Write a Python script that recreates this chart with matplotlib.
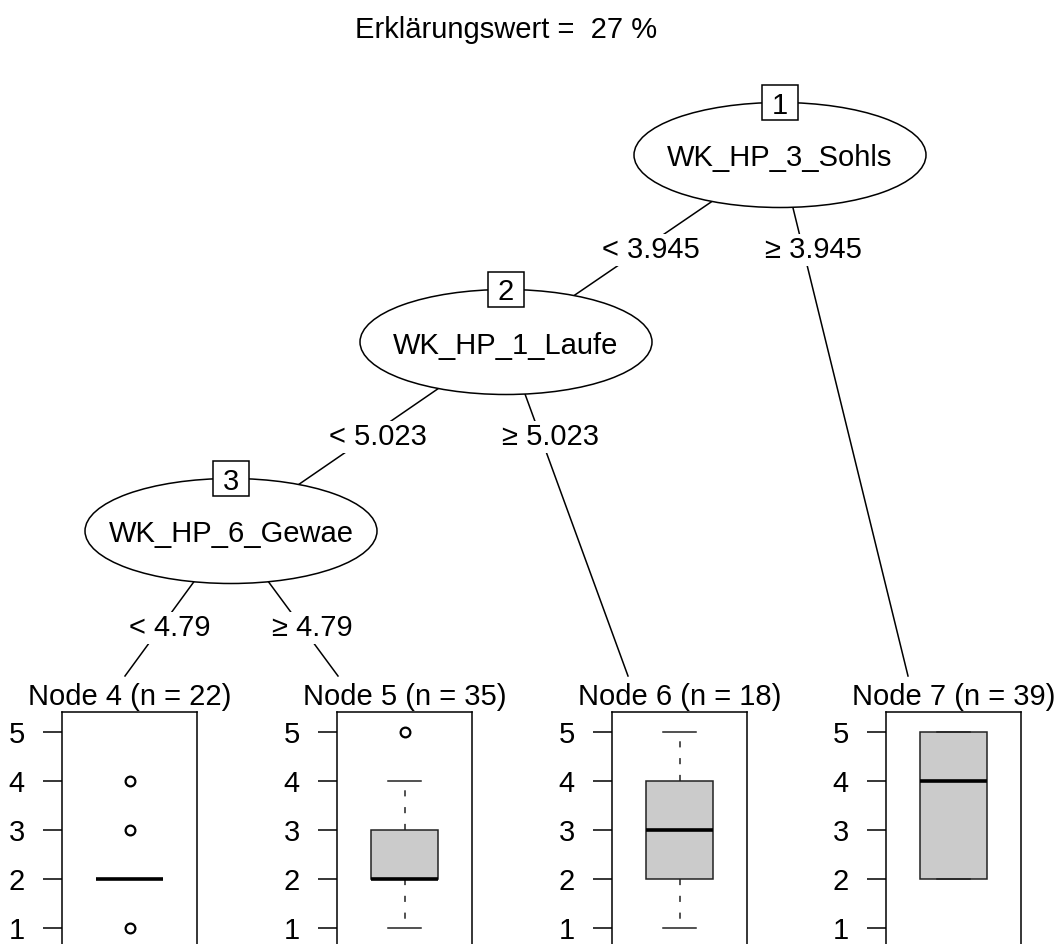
import matplotlib
matplotlib.use("Agg")
import matplotlib.pyplot as plt
from matplotlib.patches import Ellipse, Rectangle

# ---------------- data ----------------
r2_percent = 27
split_vars = ["WK_HP_3_Sohls", "WK_HP_1_Laufe", "WK_HP_6_Gewae"]   # inner nodes 1, 2, 3
split_values = [3.945, 5.023, 4.79]
terminal_ids = [4, 5, 6, 7]
terminal_n = [22, 35, 18, 39]
box_q1 = [2, 2, 2, 2]
box_med = [2, 2, 3, 4]
box_q3 = [2, 3, 4, 5]
whisk_lo = [2, 1, 1, 2]
whisk_hi = [2, 4, 5, 5]
outliers = [[1, 3, 4], [5], [], []]
yticks = [1, 2, 3, 4, 5]
# tree edges: (parent, child, side) side 0 = "<", 1 = ">="
edges = [(1, 2, 0), (1, 7, 1), (2, 3, 0), (2, 6, 1), (3, 4, 0), (3, 5, 1)]

# ---------------- layout (pixels) ----------------
W, H = 1058, 944
inner_xy = {1: (780, 155), 2: (506, 342), 3: (231, 531)}
term_anchor = {4: (125, 676), 5: (338, 676), 6: (628, 676), 7: (908, 676)}
label_y = {1: 250, 2: 437, 3: 628}
ell_w, ell_h = 292, 105
panel_left = [62, 337, 612, 886]
panel_w = 135
panel_top = 712
ylim = (0.6, 5.4)
unit_px = 49.1
panel_bottom = panel_top + (ylim[1] - ylim[0]) * unit_px

FS = 21
FAM = ["Liberation Sans", "DejaVu Sans"]
plt.rcParams["font.family"] = FAM
plt.rcParams["font.size"] = FS
LW = 1.1

fig = plt.figure(figsize=(W / 100, H / 100), dpi=100)
bg = fig.add_axes([0, 0, 1, 1])
bg.set_xlim(0, W)
bg.set_ylim(H, 0)
bg.axis("off")

# title
bg.text(506, 38, f"Erklärungswert =  {r2_percent} %", ha="center", va="baseline", fontsize=FS)

def node_xy(k):
    return inner_xy[k] if k in inner_xy else term_anchor[k]

# edges with labels
for parent, child, side in edges:
    x0, y0 = node_xy(parent)
    x1, y1 = node_xy(child)
    bg.plot([x0, x1], [y0, y1], color="black", lw=LW, zorder=1)
    ly = label_y[parent]
    lx = x0 + (x1 - x0) * (ly - y0) / (y1 - y0)
    v = split_values[parent - 1]
    txt = ("< " if side == 0 else "\u2265 ") + f"{v:g}"
    bg.text(lx + 10, ly, txt, ha="center", va="center", fontsize=FS, zorder=3,
            bbox=dict(boxstyle="square,pad=0.08", fc="white", ec="none"))

# inner nodes
for k, (cx, cy) in inner_xy.items():
    bg.add_patch(Ellipse((cx, cy), ell_w, ell_h, fc="white", ec="black", lw=LW, zorder=4))
    bg.text(cx, cy + 11.5, split_vars[k - 1], ha="center", va="baseline", fontsize=FS, zorder=5)
    top = cy - ell_h / 2
    bg.add_patch(Rectangle((cx - 18, top - 17.5), 36, 35, fc="white", ec="black", lw=LW, zorder=5))
    bg.text(cx, top + 11, str(k), ha="center", va="baseline", fontsize=FS, zorder=6)

# terminal panels
for i, tid in enumerate(terminal_ids):
    left = panel_left[i]
    cx = left + panel_w / 2
    bg.text(cx, 705, f"Node {tid} (n = {terminal_n[i]})", ha="center", va="baseline",
            fontsize=FS, zorder=5)
    ax = fig.add_axes([left / W, (H - panel_bottom) / H, panel_w / W, (panel_bottom - panel_top) / H])
    stats = [dict(med=box_med[i], q1=box_q1[i], q3=box_q3[i], whislo=whisk_lo[i],
                  whishi=whisk_hi[i], fliers=outliers[i])]
    ax.bxp(stats, positions=[0.5], widths=0.5, capwidths=0.25, patch_artist=True,
           boxprops=dict(facecolor="#cbcbcb", edgecolor="#222222", lw=LW),
           whiskerprops=dict(color="#222222", lw=LW, linestyle=(0, (4, 7))),
           capprops=dict(color="#222222", lw=LW),
           medianprops=dict(color="black", lw=2.6),
           flierprops=dict(marker="o", markerfacecolor="none", markeredgecolor="black",
                           markersize=7, markeredgewidth=1.6))
    ax.set_xlim(0, 1)
    ax.set_ylim(*ylim)
    ax.set_xticks([])
    ax.set_yticks(yticks)
    ax.set_yticklabels([str(t) for t in yticks])
    ax.tick_params(axis="y", length=13.7, width=LW, pad=13, labelsize=FS, direction="out")
    for s in ax.spines.values():
        s.set_linewidth(LW)

fig.savefig("out.png", dpi=100)
